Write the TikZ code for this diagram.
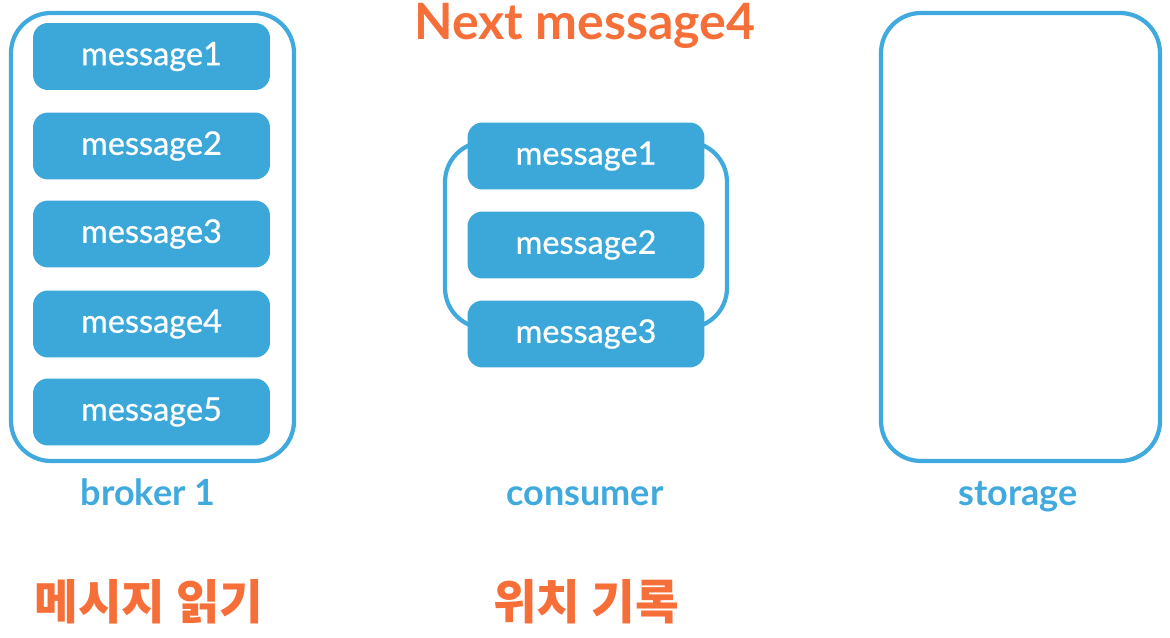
\documentclass[tikz,border=0pt]{standalone}
\usepackage{fontspec}
\setmainfont{Lato}
\newfontfamily\msgfont{Lato}[FakeBold=0.7]
\newfontfamily\krfont{Noto Sans CJK KR}
\usetikzlibrary{positioning}
\definecolor{colorbox}  {RGB}{60,167,217}
\definecolor{colorline} {RGB}{64,169,222}
\definecolor{colortitle}{RGB}{246,111,56}

\begin{document}
\begin{tikzpicture}[
    x=0.02cm, y=-0.02cm,
    msg/.style={fill=colorbox,rounded corners=0.3cm,minimum width=4.74cm,
        minimum height=1.34cm,text=white,font={\msgfont\fontsize{18.5}{22}\selectfont}},
    sketch/.style={draw=colorline,line width=2.4pt,rounded corners=0.8cm},
    label/.style={text=colorline,anchor=base,font={\fontsize{20.5}{24}\selectfont\bfseries}},
    title/.style={text=colortitle,anchor=base,inner sep=0pt,
        font={\fontsize{28.5}{32}\selectfont\bfseries}},
    krtitle/.style={text=colortitle,font={\krfont\fontsize{27}{32}\selectfont\bfseries}},
]
    \useasboundingbox (0,0) rectangle (1170,638);

    % broker
    \draw[sketch] (11,13) rectangle (294,461);
    \node[msg] (b1) at (151.5,56.5) {message1};
    \node[msg] (b2) at (151.5,146) {message2};
    \node[msg] (b3) at (151.5,234) {message3};
    \node[msg] (b4) at (151.5,324) {message4};
    \node[msg] (b5) at (151.5,412) {message5};
    \node[label] (broker) at (148,505) {broker 1};

    % consumer
    \draw[sketch] (445,142) rectangle (727,328);
    \node[msg] (c1) at (586,156) {message1};
    \node[msg] (c2) at (586,245) {message2};
    \node[msg] (c3) at (586,334) {message3};
    \node[label] (consumer) at (585,505) {consumer};

    % storage
    \draw[sketch] (881,13) rectangle (1160,461);
    \node[label] (storage) at (1018,505) {storage};

    \node[title] (next) at (585,40) {Next message4};
    \node[krtitle] (read) at (149,602) {메시지 읽기};
    \node[krtitle] (record) at (586,602) {위치 기록};

\end{tikzpicture}
\end{document}
